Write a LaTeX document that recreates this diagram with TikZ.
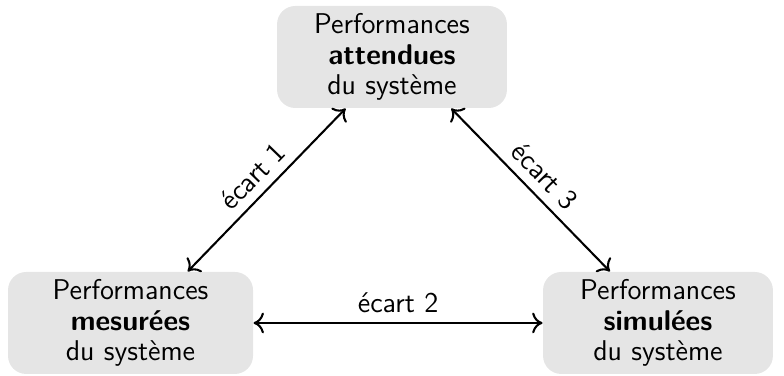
\documentclass[tikz,border=0pt]{standalone}
\usepackage{fontspec}
\usepackage{tikz}
\usetikzlibrary{arrows.meta}
\renewcommand{\familydefault}{\sfdefault}

\begin{document}
\begin{tikzpicture}[font=\fontsize{11}{11.8}\selectfont]
\tikzstyle{perf}=[rectangle,rounded corners=7pt,fill=gray!20,align=center,inner sep=1pt,minimum height=1.38cm]
\tikzstyle{ecart}=[line width=0.8pt,{Computer Modern Rightarrow[length=4pt,width=8pt]}-{Computer Modern Rightarrow[length=4pt,width=8pt]}]

\useasboundingbox (0,0) rectangle (10.608,5.087);

\node[perf,minimum width=3.11cm]  (attendues) at (5.304,4.316) {Performances\\\textbf{attendues}\\du système};
\node[perf,minimum width=3.315cm] (mesurees)  at (1.766,0.717) {Performances\\\textbf{mesurées}\\du système};
\node[perf,minimum width=3.11cm]  (simulees)  at (8.903,0.717) {Performances\\\textbf{simulées}\\du système};

\draw[ecart] (mesurees.42) -- (attendues.228) node[midway,sloped,above] {écart 1};
\draw[ecart] (mesurees) -- (simulees) node[midway,above] {écart 2};
\draw[ecart] (attendues.319) -- (simulees.133) node[midway,sloped,above] {écart 3};
\end{tikzpicture}
\end{document}
